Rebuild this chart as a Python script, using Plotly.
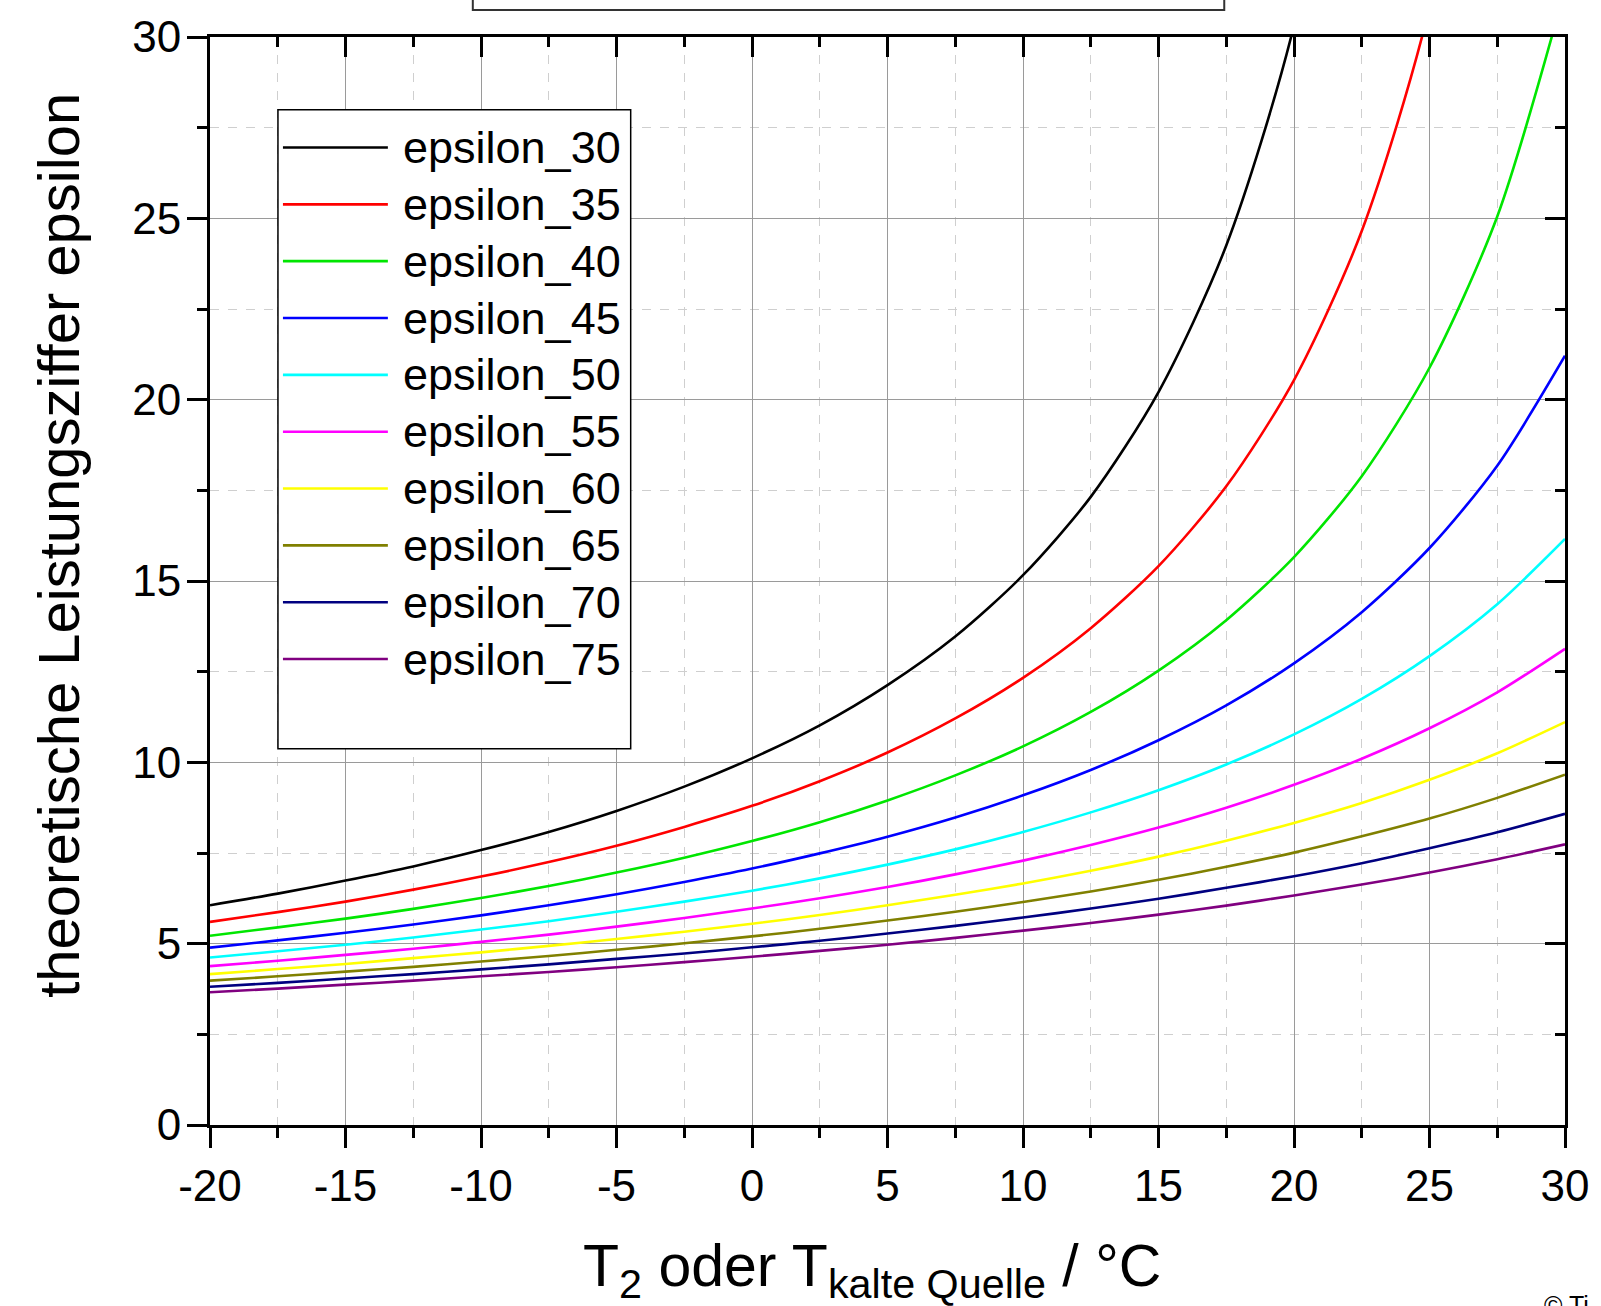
import numpy as np
import plotly.graph_objects as go

# Cold-source temperature T2 in °C
t2 = [-20, -17.5, -15, -12.5, -10, -7.5, -5, -2.5, 0, 2.5, 5, 7.5, 10,
      12.5, 15, 17.5, 20, 22.5, 25, 27.5, 30]

# Theoretical coefficient of performance for each hot-side temperature
epsilon_30 = [6.06, 6.38, 6.74, 7.13, 7.58, 8.08, 8.66, 9.33, 10.11, 11.02, 12.13,
              13.47, 15.16, 17.32, 20.21, 24.25, 30.32, 40.42]
epsilon_35 = [5.60, 5.87, 6.16, 6.49, 6.85, 7.25, 7.70, 8.22, 8.80, 9.48, 10.27,
              11.21, 12.33, 13.70, 15.41, 17.61, 20.54, 24.65, 30.82, 41.09]
epsilon_40 = [5.22, 5.45, 5.69, 5.96, 6.26, 6.59, 6.96, 7.37, 7.83, 8.35, 8.95,
              9.64, 10.44, 11.39, 12.53, 13.92, 15.66, 17.89, 20.88, 25.05, 31.32]
epsilon_45 = [4.89, 5.09, 5.30, 5.53, 5.78, 6.06, 6.36, 6.70, 7.07, 7.49, 7.95,
              8.48, 9.09, 9.79, 10.61, 11.57, 12.73, 14.14, 15.91, 18.18, 21.21]
epsilon_50 = [4.62, 4.79, 4.97, 5.17, 5.39, 5.62, 5.88, 6.16, 6.46, 6.80, 7.18,
              7.60, 8.08, 8.62, 9.23, 9.94, 10.77, 11.75, 12.93, 14.36, 16.16]
epsilon_55 = [4.38, 4.53, 4.69, 4.86, 5.05, 5.25, 5.47, 5.71, 5.97, 6.25, 6.56,
              6.91, 7.29, 7.72, 8.20, 8.75, 9.38, 10.10, 10.94, 11.93, 13.13]
epsilon_60 = [4.16, 4.30, 4.44, 4.60, 4.76, 4.94, 5.13, 5.33, 5.55, 5.79, 6.06,
              6.35, 6.66, 7.01, 7.40, 7.84, 8.33, 8.88, 9.52, 10.25, 11.11]
epsilon_65 = [3.98, 4.10, 4.23, 4.36, 4.51, 4.66, 4.83, 5.01, 5.20, 5.41, 5.64,
              5.88, 6.15, 6.44, 6.76, 7.12, 7.51, 7.96, 8.45, 9.02, 9.66]
epsilon_70 = [3.81, 3.92, 4.04, 4.16, 4.29, 4.43, 4.58, 4.73, 4.90, 5.08, 5.28,
              5.49, 5.72, 5.97, 6.24, 6.54, 6.86, 7.22, 7.63, 8.07, 8.58]
epsilon_75 = [3.66, 3.76, 3.87, 3.98, 4.10, 4.22, 4.35, 4.49, 4.64, 4.80, 4.97,
              5.16, 5.36, 5.57, 5.80, 6.05, 6.33, 6.63, 6.96, 7.33, 7.74]

series_names = ["epsilon_30", "epsilon_35", "epsilon_40", "epsilon_45", "epsilon_50",
                "epsilon_55", "epsilon_60", "epsilon_65", "epsilon_70", "epsilon_75"]
series_values = [epsilon_30, epsilon_35, epsilon_40, epsilon_45, epsilon_50,
                 epsilon_55, epsilon_60, epsilon_65, epsilon_70, epsilon_75]
series_colors = ["#000000", "#ff0000", "#00e600", "#0000ff", "#00ffff",
                 "#ff00ff", "#ffff00", "#808000", "#000080", "#800080"]

x_ticks = [-20, -15, -10, -5, 0, 5, 10, 15, 20, 25, 30]
x_ticktext = ["-20", "-15", "-10", "-5", "0", "5", "10", "15", "20", "25", "30"]
y_ticks = [0, 5, 10, 15, 20, 25, 30]

FONT = "Liberation Sans, Arial, sans-serif"

# figure geometry in pixels
W, H = 1601, 1306
ML, MR, MT, MB = 210, 35, 32, 181
PW, PH = W - ML - MR, H - MT - MB


def px_x(px):
    return (px - ML) / PW


def px_y(py):
    return (H - MB - py) / PH


fig = go.Figure()
for name, vals, col in zip(series_names, series_values, series_colors):
    # the steep curves carry a point beyond the top edge so they leave the frame
    xs = t2[:len(vals)]
    fig.add_trace(go.Scatter(x=xs, y=vals, name=name, mode="lines", showlegend=False,
                             line=dict(color=col, width=2.6, shape="spline", smoothing=0.8),
                             hoverinfo="x+y+name"))

# helper trace for the inward-ticked top/right frame axes
fig.add_trace(go.Scatter(x=[None], y=[None], xaxis="x2", yaxis="y2",
                         showlegend=False, hoverinfo="skip"))

x_minor = np.arange(-17.5, 30, 5).tolist()
y_minor = np.arange(2.5, 30, 5).tolist()

axis_common = dict(showline=True, linecolor="black", linewidth=3, zeroline=False,
                   ticklen=20, tickwidth=3, tickcolor="black")

fig.update_layout(
    width=W, height=H,
    margin=dict(l=ML, r=MR, t=MT, b=MB),
    paper_bgcolor="white", plot_bgcolor="white",
    font=dict(family=FONT, color="black"),
    showlegend=False,
    xaxis=dict(range=[-20, 30], tickmode="array", tickvals=x_ticks, ticktext=x_ticktext,
               ticks="outside", showgrid=True, gridcolor="#9a9a9a", gridwidth=1,
               tickfont=dict(size=44, family=FONT, color="black"),
               minor=dict(tickmode="array", tickvals=x_minor, ticks="outside", ticklen=10,
                          tickwidth=3, tickcolor="black", showgrid=True,
                          gridcolor="#cfcfcf", gridwidth=1, griddash="dash"),
               **axis_common),
    yaxis=dict(range=[0, 30], tickmode="array", tickvals=y_ticks,
               ticks="outside", showgrid=True, gridcolor="#9a9a9a", gridwidth=1,
               tickfont=dict(size=44, family=FONT, color="black"),
               ticklabelstandoff=-3,
               minor=dict(tickmode="array", tickvals=y_minor, ticks="outside", ticklen=10,
                          tickwidth=3, tickcolor="black", showgrid=True,
                          gridcolor="#cfcfcf", gridwidth=1, griddash="dash"),
               **axis_common),
    xaxis2=dict(range=[-20, 30], overlaying="x", side="top", anchor="y2",
                tickmode="array", tickvals=x_ticks, ticks="inside", showticklabels=False,
                showgrid=False,
                minor=dict(tickmode="array", tickvals=x_minor, ticks="inside", ticklen=10,
                           tickwidth=3, tickcolor="black", showgrid=False),
                **axis_common),
    yaxis2=dict(range=[0, 30], overlaying="y", side="right", anchor="x2",
                tickmode="array", tickvals=y_ticks, ticks="inside", showticklabels=False,
                showgrid=False,
                minor=dict(tickmode="array", tickvals=y_minor, ticks="inside", ticklen=10,
                           tickwidth=3, tickcolor="black", showgrid=False),
                **axis_common),
)

# legend frame
fig.add_shape(type="rect", xref="paper", yref="paper",
              x0=px_x(278), x1=px_x(631), y0=px_y(747), y1=px_y(105),
              line=dict(color="black", width=1.5), fillcolor="white", layer="above")

# legend entries: line sample plus series name
for i, (name, col) in enumerate(zip(series_names, series_colors)):
    yc = px_y(143 + i * 57.1)
    fig.add_shape(type="line", xref="paper", yref="paper",
                  x0=px_x(283), x1=px_x(388), y0=yc, y1=yc,
                  line=dict(color=col, width=2.6), layer="above")
    fig.add_annotation(text=name, xref="paper", yref="paper", x=px_x(401), y=yc,
                       xanchor="left", yanchor="middle", showarrow=False,
                       font=dict(size=45, family=FONT, color="black"))

# frame of the heading box above the plot
fig.add_shape(type="rect", xref="paper", yref="paper",
              x0=px_x(473), x1=px_x(1225), y0=px_y(5), y1=px_y(-40),
              line=dict(color="#333333", width=2), fillcolor="white", layer="above")

fig.add_annotation(text="theoretische Leistungsziffer epsilon", textangle=-90,
                   xref="paper", yref="paper", x=px_x(59), y=px_y(543),
                   xanchor="center", yanchor="middle", showarrow=False,
                   font=dict(size=58, family=FONT, color="black"))
fig.add_annotation(text="T<sub>2</sub> oder T<sub>kalte Quelle</sub> / °C",
                   xref="paper", yref="paper", x=px_x(872), y=px_y(1231),
                   xanchor="center", yanchor="top", showarrow=False,
                   font=dict(size=59, family=FONT, color="black"))
fig.add_annotation(text="© Ti", xref="paper", yref="paper", x=px_x(1543), y=px_y(1290),
                   xanchor="left", yanchor="top", showarrow=False,
                   font=dict(size=25, family=FONT, color="black"))

fig.write_html("out.html")
